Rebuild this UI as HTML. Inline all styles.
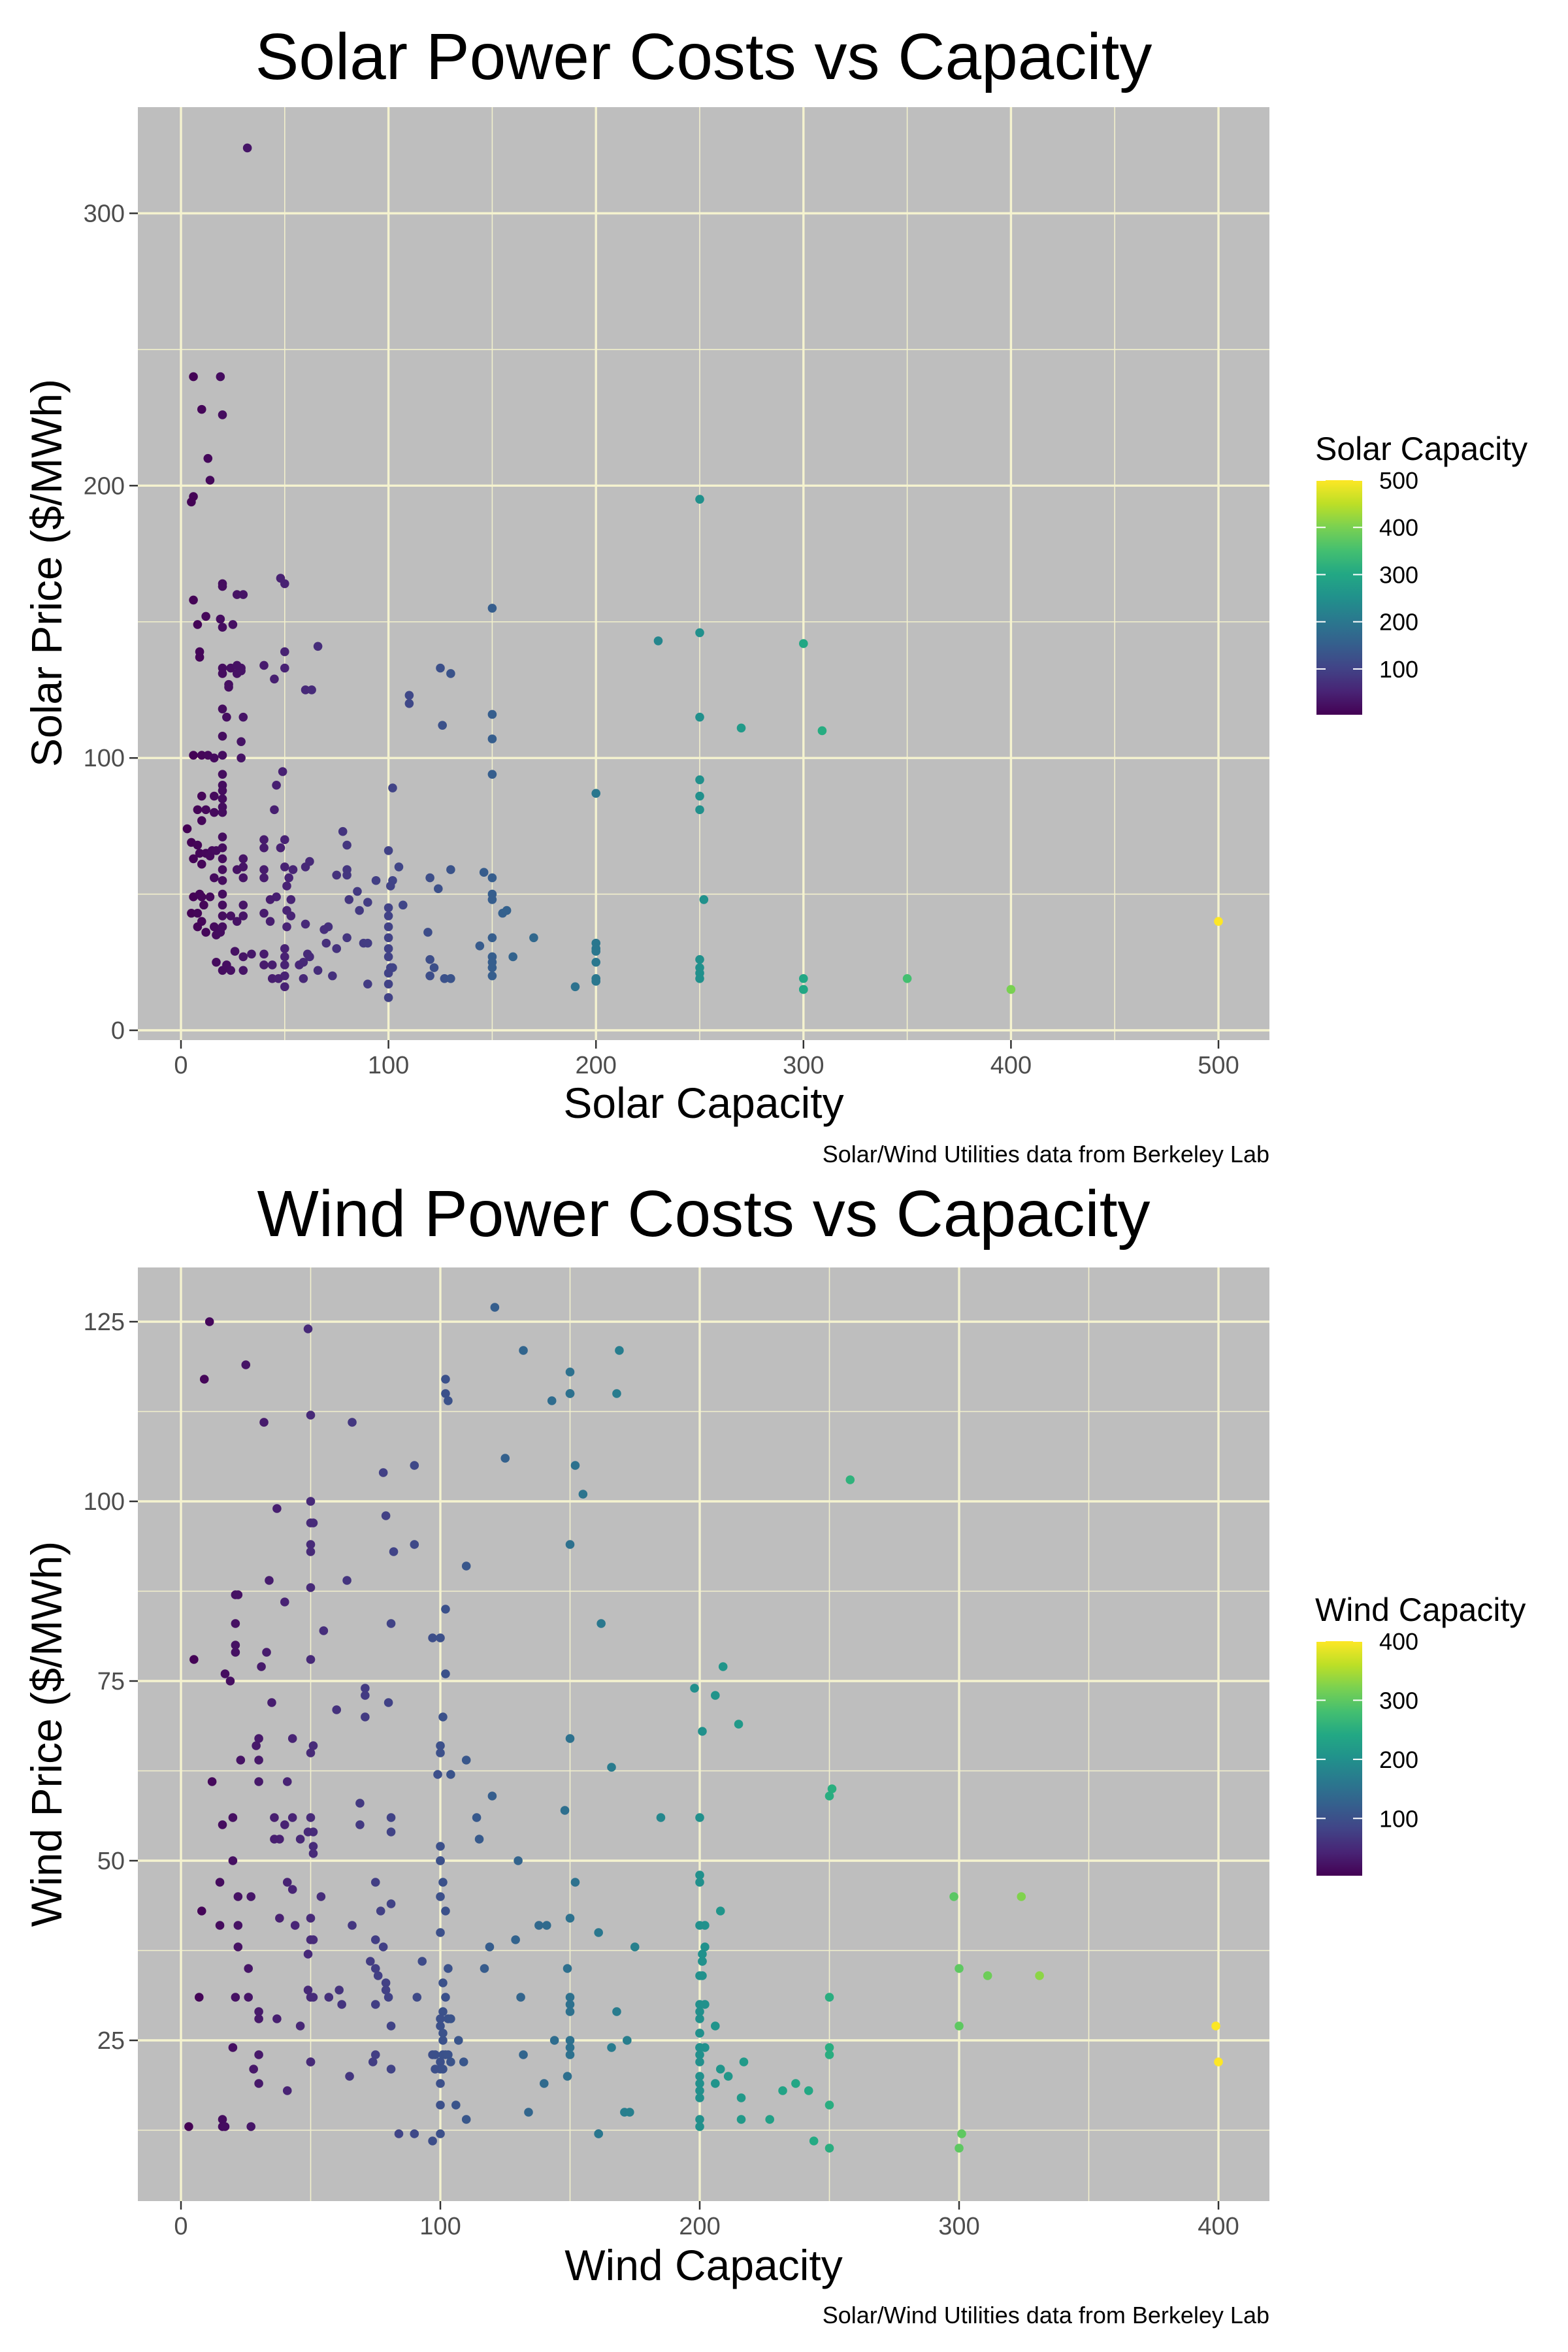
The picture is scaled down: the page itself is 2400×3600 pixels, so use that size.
<!DOCTYPE html>
<html><head><meta charset="utf-8">
<style>
html,body{margin:0;padding:0;background:#fff;}
svg{display:block;font-family:"Liberation Sans",Arial,sans-serif;}
</style></head>
<body>
<svg id="chart" width="2400" height="3600" viewBox="0 0 2400 3600" xmlns="http://www.w3.org/2000/svg">
<defs>
<linearGradient id="viridis" x1="0" y1="1" x2="0" y2="0">
<stop offset="0" stop-color="#440154"/><stop offset="0.1" stop-color="#482475"/><stop offset="0.2" stop-color="#414487"/><stop offset="0.3" stop-color="#355f8d"/><stop offset="0.4" stop-color="#2a788e"/><stop offset="0.5" stop-color="#21918c"/><stop offset="0.6" stop-color="#22a884"/><stop offset="0.7" stop-color="#44bf70"/><stop offset="0.8" stop-color="#7ad151"/><stop offset="0.9" stop-color="#bddf26"/><stop offset="1" stop-color="#fde725"/>
</linearGradient>
</defs>
<rect width="2400" height="3600" fill="#fff"/>
<g id="solar"></g>
<g id="wind"></g>
</svg>
<script>
const solarX=[32,6,19,10,20,13,14,6,5,250,48,50,20,20,27,30,6,150,12,19,8,25,20,250,230,300,66,9,9,50,40,50,125,130,20,24,29,20,27,23,23,29,27,45,60,63,110,110,150,250,270,309,126,20,22,30,20,29,150,6,10,13,20,29,16,150,49,20,20,20,20,20,20,46,250,102,200,250,250,16,10,8,12,16,10,3,45,78,80,40,50,40,48,100,5,8,9,12,14,6,10,15,17,20,20,20,20,20,20,20,20,30,30,27,30,40,40,50,54,52,51,60,62,105,102,101,75,80,80,94,120,130,146,150,124,16,6,9,10,5,14,11,8,10,85,81,90,86,46,43,53,51,53,150,150,252,100,100,107,40,43,155,157,30,30,24,27,16,8,12,17,19,20,500,71,69,60,51,80,100,100,100,170,150,119,144,70,75,88,90,200,200,200,50,50,50,50,50,26,30,34,40,160,150,150,150,61,62,59,57,250,200,120,122,100,101,102,100,100,100,44,40,17,20,24,30,22,66,44,47,59,73,90,120,127,130,150,190,200,200,250,250,250,300,300,300,350,400];
const solarY=[324,240,240,228,226,210,202,196,194,195,166,164,164,163,160,160,158,155,152,151,149,149,148,146,143,142,141,139,137,139,134,133,133,131,133,133,133,131,131,127,126,132,134,129,125,125,123,120,116,115,111,110,112,118,115,115,108,106,107,101,101,101,101,100,100,94,95,94,90,88,85,82,80,90,92,89,87,86,81,86,86,81,81,80,77,74,81,73,68,70,70,67,67,66,69,68,65,65,64,63,61,66,66,71,67,63,59,55,50,46,42,63,60,59,56,59,56,60,59,56,53,60,62,60,55,53,57,59,57,55,56,59,58,56,52,56,49,50,49,43,49,46,43,40,51,48,47,44,49,48,48,44,42,50,48,48,45,42,46,43,40,43,44,46,42,42,40,38,38,36,35,36,38,40,38,37,39,38,34,38,34,30,34,34,36,31,32,30,32,32,32,30,29,30,27,24,20,16,29,27,28,28,27,27,25,23,28,27,25,24,26,25,26,23,27,23,23,21,17,12,24,24,25,22,22,22,24,22,19,19,19,20,17,20,19,19,20,16,19,18,23,21,19,19,15,15,19,15];
const solarXTicks=[0,100,200,300,400,500];
const solarXMinor=[50,150,250,350,450];
const solarYTicks=[0,100,200,300];
const solarYMinor=[50,150,250];
const solarLegendTicks=[100,200,300,400,500];

const windX=[11,49,121,25,9,132,169,150,102,102,103,150,150,168,143,32,50,66,125,90,152,78,155,258,37,50,79,50,51,50,50,90,82,150,110,34,64,50,21,22,102,40,97,100,81,162,55,21,21,21,33,5,50,17,19,31,102,209,198,206,71,71,35,60,80,101,71,215,43,30,29,51,50,100,100,150,201,23,30,110,166,99,104,12,30,41,251,250,120,69,148,185,200,16,20,36,43,50,81,114,69,81,40,49,51,38,36,46,115,51,51,100,130,20,100,100,15,75,41,43,101,152,200,200,54,100,298,324,22,27,8,102,77,208,81,15,22,38,44,50,50,66,138,141,150,200,202,161,100,51,22,75,78,119,129,175,202,201,49,93,73,26,75,103,117,149,201,201,200,201,300,311,331,76,79,101,49,7,21,26,50,51,57,61,62,79,80,91,102,131,150,150,150,250,200,202,30,30,37,46,75,81,101,100,103,100,104,168,200,200,206,200,200,101,101,300,399,400,144,107,172,150,150,150,200,202,200,200,250,250,30,20,50,50,75,132,166,97,98,100,101,102,100,98,101,100,103,104,109,74,81,217,200,200,200,200,28,149,65,208,211,232,237,242,30,41,140,206,100,106,216,200,250,134,171,173,110,200,200,216,227,3,16,16,17,27,84,90,97,161,161,244,301,100,250,300];
const windY=[125,124,127,119,117,121,121,118,117,115,114,115,115,115,114,111,112,111,106,105,105,104,101,103,99,100,98,97,97,94,93,94,93,94,91,89,89,88,87,87,85,86,81,81,83,83,82,83,80,79,79,78,78,76,75,77,76,77,74,73,74,73,72,71,72,70,70,69,67,67,66,66,65,66,65,67,68,64,64,64,63,62,62,61,61,61,60,59,59,58,57,56,56,55,56,56,56,56,56,56,55,54,55,54,54,53,53,53,53,52,51,52,50,50,50,50,47,47,47,46,47,47,48,47,45,45,45,45,45,45,43,43,43,43,44,41,41,42,41,42,39,41,41,41,42,41,41,40,40,39,38,39,38,38,39,38,38,37,37,36,36,35,35,35,35,35,36,36,34,34,35,34,34,34,33,33,32,31,31,31,31,31,31,32,30,32,31,31,31,31,31,30,29,31,30,30,29,28,28,27,30,27,29,28,28,27,28,29,29,28,27,26,26,26,25,27,27,22,25,25,25,24,23,25,24,24,23,24,23,24,23,24,22,22,23,23,24,23,23,22,23,23,21,21,21,19,23,22,22,22,21,22,22,20,19,18,21,20,20,21,20,18,19,18,19,18,19,19,16,16,17,17,16,15,15,15,14,14,13,14,14,13,14,13,13,13,12,12,11,12,12,11,12,12,10,10,9];
const windXTicks=[0,100,200,300,400];
const windXMinor=[50,150,250,350];
const windYTicks=[25,50,75,100,125];
const windYMinor=[12.5,37.5,62.5,87.5,112.5];
const windLegendTicks=[100,200,300,400];

const NS="http://www.w3.org/2000/svg";
const VIR=["#440154","#482475","#414487","#355f8d","#2a788e","#21918c","#22a884","#44bf70","#7ad151","#bddf26","#fde725"];
function hex(c){return [1,3,5].map(i=>parseInt(c.substr(i,2),16));}
function viridis(t){t=Math.max(0,Math.min(1,t));const p=t*10,i=Math.min(9,Math.floor(p)),f=p-i;const a=hex(VIR[i]),b=hex(VIR[i+1]);return "rgb("+a.map((v,k)=>Math.round(v+(b[k]-v)*f)).join(",")+")";}
function mk(parent,tag,attrs,text){const e=document.createElementNS(NS,tag);for(const k in attrs)e.setAttribute(k,attrs[k]);if(text!==undefined)e.textContent=text;parent.appendChild(e);return e;}

function panel(g,cfg){
  const {xs,ys,xT,xM,yT,yM,lT,L,R,T,B,xScale,yScale,title,xTitle,yTitle,legTitle,titleY,xLabY,xTitleY,capY,yTitleY,legTop,legBot,legTitleY,cmin,cmax}=cfg;
  const bg=mk(g,"rect",{x:L,y:T,width:R-L,height:B-T,fill:"#bebebe"});
  
  
  xM.forEach(v=>{const l=mk(g,"line",{x1:xScale(v),x2:xScale(v),y1:T,y2:B,stroke:"#f2f0cc","stroke-width":1.6});
    
    });
  yM.forEach(v=>{const l=mk(g,"line",{x1:L,x2:R,y1:yScale(v),y2:yScale(v),stroke:"#f2f0cc","stroke-width":1.6});
    
    });
  xT.forEach(v=>{const x=xScale(v);
    const l=mk(g,"line",{x1:x,x2:x,y1:T,y2:B,stroke:"#f5f3cf","stroke-width":3.4});
    
    
    const tk=mk(g,"line",{x1:x,x2:x,y1:B,y2:B+13,stroke:"#333","stroke-width":2.5});
    
    
    const t=mk(g,"text",{x:x,y:xLabY,"text-anchor":"middle","font-size":38,fill:"#4d4d4d"},String(v));
    
    });
  yT.forEach(v=>{const y=yScale(v);
    const l=mk(g,"line",{x1:L,x2:R,y1:y,y2:y,stroke:"#f5f3cf","stroke-width":3.4});
    
    
    const tk=mk(g,"line",{x1:L-13,x2:L,y1:y,y2:y,stroke:"#333","stroke-width":2.5});
    
    
    const t=mk(g,"text",{x:L-20,y:y+13,"text-anchor":"end","font-size":38,fill:"#4d4d4d"},String(v));
    
    });
  for(let i=0;i<xs.length;i++){
    const c=mk(g,"circle",{cx:xScale(xs[i]),cy:yScale(ys[i]),r:6.8,fill:viridis((xs[i]-cmin)/(cmax-cmin))});
    
    
  }
  const tt=mk(g,"text",{x:(L+R)/2,y:titleY,"text-anchor":"middle","font-size":100,fill:"#000"},title);
  
  
  const xt=mk(g,"text",{x:(L+R)/2,y:xTitleY,"text-anchor":"middle","font-size":66,fill:"#000"},xTitle);
  
  
  const yt=mk(g,"text",{x:0,y:0,"text-anchor":"middle","font-size":66,fill:"#000",transform:"translate(94,"+yTitleY+") rotate(-90)"},yTitle);
  
  
  const cap=mk(g,"text",{x:R,y:capY,"text-anchor":"end","font-size":36,fill:"#000"},"Solar/Wind Utilities data from Berkeley Lab");
  
  
  const lt=mk(g,"text",{x:2013,y:legTitleY,"font-size":50,fill:"#000"},legTitle);
  
  
  const bar=mk(g,"rect",{x:2015,y:legTop,width:70,height:legBot-legTop,fill:"url(#viridis)"});
  
  
  lT.forEach(v=>{const y=legBot-(v-cmin)/(cmax-cmin)*(legBot-legTop);
    const a=mk(g,"line",{x1:2015,x2:2029,y1:y,y2:y,stroke:"#fff","stroke-width":2});
    
    
    const b=mk(g,"line",{x1:2071,x2:2085,y1:y,y2:y,stroke:"#fff","stroke-width":2});
    
    
    const t=mk(g,"text",{x:2111,y:y+13,"font-size":36,fill:"#000"},String(v));
    
    });
}

const sx0=277,sx1=1865;
panel(document.getElementById("solar"),{xs:solarX,ys:solarY,xT:solarXTicks,xM:solarXMinor,yT:solarYTicks,yM:solarYMinor,lT:solarLegendTicks,
  L:211,R:1943,T:164,B:1592,
  xScale:v=>sx0+v*(sx1-sx0)/500,yScale:v=>1577-v*(1577-326.5)/300,
  title:"Solar Power Costs vs Capacity",xTitle:"Solar Capacity",yTitle:"Solar Price ($/MWh)",legTitle:"Solar Capacity",
  titleY:121,xLabY:1643,xTitleY:1711,capY:1779,yTitleY:877,legTop:735,legBot:1094,legTitleY:704,cmin:3,cmax:500});
panel(document.getElementById("wind"),{xs:windX,ys:windY,xT:windXTicks,xM:windXMinor,yT:windYTicks,yM:windYMinor,lT:windLegendTicks,
  L:211,R:1943,T:1940,B:3369,
  xScale:v=>sx0+v*(sx1-sx0)/400,yScale:v=>3123-(v-25)*(3123-2023)/100,
  title:"Wind Power Costs vs Capacity",xTitle:"Wind Capacity",yTitle:"Wind Price ($/MWh)",legTitle:"Wind Capacity",
  titleY:1892,xLabY:3420,xTitleY:3490,capY:3556,yTitleY:2654,legTop:2512,legBot:2871,legTitleY:2481,cmin:3,cmax:400});
</script>
</body></html>
